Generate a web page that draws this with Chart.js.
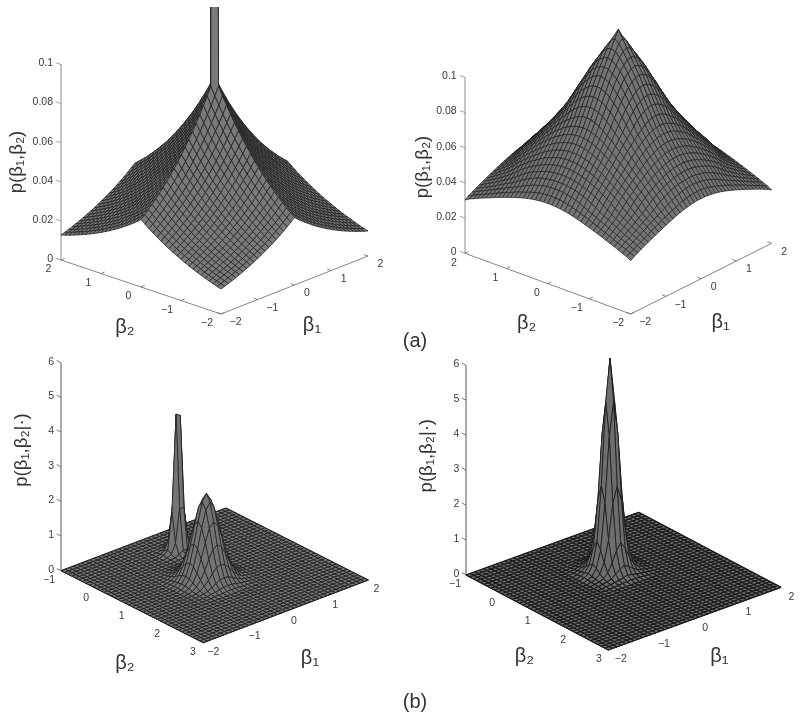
<!DOCTYPE html>
<html><head><meta charset="utf-8">
<style>
html,body{margin:0;padding:0;background:#fff;width:800px;height:719px;overflow:hidden}
canvas{position:absolute}
.cap{position:absolute;font:20px "Liberation Sans",Arial,sans-serif;color:#333;transform:translate(-50%,-50%)}
</style>
<script src="https://cdn.jsdelivr.net/npm/chart.js@4/dist/chart.umd.min.js"></script>
</head><body>
<div style="position:absolute;left:0;top:0;width:800px;height:719px" id="root"></div>
<div class="cap" style="left:415px;top:340px">(a)</div>
<div class="cap" style="left:415px;top:701px">(b)</div>
<script>
// ---------- data ----------
const betaTicksA1 = [-2,-1,0,1,2];
const betaTicksA2 = [-2,-1,0,1,2];
const betaTicksB1 = [-2,-1,0,1,2];
const betaTicksB2 = [-1,0,1,2,3];
const zTicksA = [0,0.02,0.04,0.06,0.08,0.1];
const zLabelsA = ['0','0.02','0.04','0.06','0.08','0.1'];
const zTicksB = [0,1,2,3,4,5,6];
const zLabelsB = ['0','1','2','3','4','5','6'];

// p x 1000, rows |beta1| = 0, 0.1 .. 2, columns |beta2| = 0, 0.1 .. 2
const priorSharp = [
[1000,88.5,84.2,80.2,76.3,72.6,69.1,65.8,62.6,59.6,56.7,53.9,51.3,48.8,46.5,44.2,42.1,40,38.1,36.3,34.5],
[88.5,84.2,80.2,76.3,72.6,69.1,65.8,62.6,59.6,56.7,53.9,51.3,48.8,46.5,44.2,42.1,40,38.1,36.3,34.5,32.8],
[84.2,80.2,76.3,72.6,69.1,65.8,62.6,59.6,56.7,53.9,51.3,48.8,46.5,44.2,42.1,40,38.1,36.3,34.5,32.8,31.2],
[80.2,76.3,72.6,69.1,65.8,62.6,59.6,56.7,53.9,51.3,48.8,46.5,44.2,42.1,40,38.1,36.3,34.5,32.8,31.2,29.7],
[76.3,72.6,69.1,65.8,62.6,59.6,56.7,53.9,51.3,48.8,46.5,44.2,42.1,40,38.1,36.3,34.5,32.8,31.2,29.7,28.3],
[72.6,69.1,65.8,62.6,59.6,56.7,53.9,51.3,48.8,46.5,44.2,42.1,40,38.1,36.3,34.5,32.8,31.2,29.7,28.3,26.9],
[69.1,65.8,62.6,59.6,56.7,53.9,51.3,48.8,46.5,44.2,42.1,40,38.1,36.3,34.5,32.8,31.2,29.7,28.3,26.9,25.6],
[65.8,62.6,59.6,56.7,53.9,51.3,48.8,46.5,44.2,42.1,40,38.1,36.3,34.5,32.8,31.2,29.7,28.3,26.9,25.6,24.4],
[62.6,59.6,56.7,53.9,51.3,48.8,46.5,44.2,42.1,40,38.1,36.3,34.5,32.8,31.2,29.7,28.3,26.9,25.6,24.4,23.2],
[59.6,56.7,53.9,51.3,48.8,46.5,44.2,42.1,40,38.1,36.3,34.5,32.8,31.2,29.7,28.3,26.9,25.6,24.4,23.2,22.1],
[56.7,53.9,51.3,48.8,46.5,44.2,42.1,40,38.1,36.3,34.5,32.8,31.2,29.7,28.3,26.9,25.6,24.4,23.2,22.1,21],
[53.9,51.3,48.8,46.5,44.2,42.1,40,38.1,36.3,34.5,32.8,31.2,29.7,28.3,26.9,25.6,24.4,23.2,22.1,21,20],
[51.3,48.8,46.5,44.2,42.1,40,38.1,36.3,34.5,32.8,31.2,29.7,28.3,26.9,25.6,24.4,23.2,22.1,21,20,19],
[48.8,46.5,44.2,42.1,40,38.1,36.3,34.5,32.8,31.2,29.7,28.3,26.9,25.6,24.4,23.2,22.1,21,20,19,18.1],
[46.5,44.2,42.1,40,38.1,36.3,34.5,32.8,31.2,29.7,28.3,26.9,25.6,24.4,23.2,22.1,21,20,19,18.1,17.2],
[44.2,42.1,40,38.1,36.3,34.5,32.8,31.2,29.7,28.3,26.9,25.6,24.4,23.2,22.1,21,20,19,18.1,17.2,16.4],
[42.1,40,38.1,36.3,34.5,32.8,31.2,29.7,28.3,26.9,25.6,24.4,23.2,22.1,21,20,19,18.1,17.2,16.4,15.6],
[40,38.1,36.3,34.5,32.8,31.2,29.7,28.3,26.9,25.6,24.4,23.2,22.1,21,20,19,18.1,17.2,16.4,15.6,14.8],
[38.1,36.3,34.5,32.8,31.2,29.7,28.3,26.9,25.6,24.4,23.2,22.1,21,20,19,18.1,17.2,16.4,15.6,14.8,14.1],
[36.3,34.5,32.8,31.2,29.7,28.3,26.9,25.6,24.4,23.2,22.1,21,20,19,18.1,17.2,16.4,15.6,14.8,14.1,13.4],
[34.5,32.8,31.2,29.7,28.3,26.9,25.6,24.4,23.2,22.1,21,20,19,18.1,17.2,16.4,15.6,14.8,14.1,13.4,12.8]
];
const priorRound = [
[124.4,120,115.5,111.2,106.9,102.7,97.8,92.9,88,83.2,78.4,74.6,70.9,67.4,64,60.8,57.7,54.7,51.8,48.6,45.5],
[120,118.2,114.5,110.5,106.4,102.2,97.4,92.6,87.7,82.9,78.2,74.4,70.8,67.3,63.9,60.7,57.6,54.6,51.7,48.5,45.5],
[115.5,114.5,112,108.6,104.9,100.8,96.2,91.5,86.8,82.1,77.6,73.9,70.3,66.9,63.6,60.4,57.3,54.3,51.5,48.3,45.3],
[111.2,110.5,108.6,105.9,102.7,98.6,94.3,89.9,85.4,80.8,76.7,73.1,69.6,66.2,63,59.9,56.9,53.9,51,47.9,45],
[106.9,106.4,104.9,102.7,99.4,95.8,91.9,87.7,83.5,79.1,75.5,72,68.6,65.4,62.2,59.2,56.2,53.4,50.4,47.3,44.6],
[102.7,102.2,100.8,98.6,95.8,92.6,88.9,85.1,81.1,77.3,73.9,70.6,67.4,64.2,61.2,58.3,55.4,52.6,49.6,46.6,44.1],
[97.8,97.4,96.2,94.3,91.9,88.9,85.6,82.1,78.4,75.3,72.2,69.2,66,63,60.1,57.2,54.4,51.7,48.7,45.7,43.5],
[92.9,92.6,91.5,89.9,87.7,85.1,82.1,78.9,76,73.1,70.2,67.3,64.4,61.6,58.8,56,53.4,50.6,47.6,44.9,42.8],
[88,87.7,86.8,85.4,83.5,81.1,78.4,76,73.4,70.8,68,65.4,62.7,60,57.3,54.7,52.1,49.3,46.4,44.1,42],
[83.2,82.9,82.1,80.8,79.1,77.3,75.3,73.1,70.8,68.3,65.9,63.3,60.8,58.3,55.8,53.3,50.7,47.9,45.2,43.2,41.2],
[78.4,78.2,77.6,76.7,75.5,73.9,72.2,70.2,68,65.9,63.5,61.2,58.9,56.5,54.1,51.7,49,46.4,44.1,42.1,40.4],
[74.6,74.4,73.9,73.1,72,70.6,69.2,67.3,65.4,63.3,61.2,59,56.9,54.6,52.4,50,47.3,44.9,43,41.2,39.5],
[70.9,70.8,70.3,69.6,68.6,67.4,66,64.4,62.7,60.8,58.9,56.9,54.8,52.7,50.4,47.9,45.5,43.6,41.9,40.2,38.6],
[67.4,67.3,66.9,66.2,65.4,64.2,63,61.6,60,58.3,56.5,54.6,52.7,50.7,48.3,46,44.1,42.4,40.7,39.2,37.7],
[64,63.9,63.6,63,62.2,61.2,60.1,58.8,57.3,55.8,54.1,52.4,50.4,48.3,46.1,44.3,42.7,41.1,39.6,38.1,36.7],
[60.8,60.7,60.4,59.9,59.2,58.3,57.2,56,54.7,53.3,51.7,50,47.9,46,44.3,42.8,41.2,39.8,38.4,37,35.8],
[57.7,57.6,57.3,56.9,56.2,55.4,54.4,53.4,52.1,50.7,49,47.3,45.5,44.1,42.7,41.2,39.9,38.5,37.3,36,34.8],
[54.7,54.6,54.3,53.9,53.4,52.6,51.7,50.6,49.3,47.9,46.4,44.9,43.6,42.4,41.1,39.8,38.5,37.3,36.2,35,33.8],
[51.8,51.7,51.5,51,50.4,49.6,48.7,47.6,46.4,45.2,44.1,43,41.9,40.7,39.6,38.4,37.3,36.2,35.1,33.9,32.7],
[48.6,48.5,48.3,47.9,47.3,46.6,45.7,44.9,44.1,43.2,42.1,41.2,40.2,39.2,38.1,37,36,35,33.9,32.8,31.7],
[45.5,45.5,45.3,45,44.6,44.1,43.5,42.8,42,41.2,40.4,39.5,38.6,37.7,36.7,35.8,34.8,33.8,32.7,31.7,30.3]
];
// posterior peaks: rows = distance in beta1 nodes, columns = distance in beta2 nodes from the peak node
const postWide = [
[2.45,2.25,1.73,1.12,0.61,0.28,0.107,0.035],
[2.25,2.06,1.59,1.03,0.56,0.26,0.098,0.032],
[1.73,1.59,1.22,0.79,0.43,0.198,0.076,0.024],
[1.12,1.03,0.79,0.513,0.28,0.128,0.049,0.016],
[0.61,0.56,0.43,0.28,0.152,0.07,0.027,0.0085],
[0.28,0.26,0.198,0.128,0.07,0.032,0.012,0.004],
[0.107,0.098,0.076,0.049,0.027,0.012,0.005,0.001],
[0.035,0.032,0.024,0.016,0.0085,0.004,0.001,0]
];
// rows beta1 node 18..25, columns beta2 node 5..11
const postTall = [
[0,0.01,0.02,0.04,0.02,0.01,0],
[0.01,0.03,0.08,0.15,0.08,0.03,0.01],
[0.02,0.08,0.35,1.2,0.35,0.08,0.02],
[0.04,0.15,1.3,3.98,1.3,0.15,0.04],
[0.04,0.15,1.3,3.9,1.3,0.15,0.04],
[0.02,0.08,0.35,1.1,0.35,0.08,0.02],
[0.01,0.03,0.08,0.15,0.08,0.03,0.01],
[0,0.01,0.02,0.04,0.02,0.01,0]
];
const postSingle = [
[6.07,4.85,2.5,0.95,0.35,0.12,0.05],
[4.85,3.9,2.05,0.75,0.28,0.1,0.04],
[2.5,2.05,1.05,0.45,0.18,0.07,0.03],
[0.95,0.75,0.45,0.22,0.1,0.05,0.02],
[0.35,0.28,0.18,0.1,0.06,0.03,0.01],
[0.12,0.1,0.07,0.05,0.03,0.015,0],
[0.05,0.04,0.03,0.02,0.01,0,0]
];

// ---------- lookups into the tables ----------
const N = 40;
const zPriorSharp = (i,j)=>priorSharp[Math.abs(i-20)][Math.abs(j-20)]/1000;
const zPriorRound = (i,j)=>priorRound[Math.abs(i-20)][Math.abs(j-20)]/1000;
function fromMirror(t,ci,cj,i,j){const a=Math.abs(i-ci),b=Math.abs(j-cj);return (a<t.length&&b<t[0].length)?t[a][b]:0;}
function fromBlock(t,i0,j0,i,j){const a=i-i0,b=j-j0;return (a>=0&&a<t.length&&b>=0&&b<t[0].length)?t[a][b]:0;}
const zPostTwo = (i,j)=>Math.max(fromMirror(postWide,18,20,i,j),fromBlock(postTall,18,5,i,j));
const zPostOne = (i,j)=>fromMirror(postSingle,21,15,i,j);

// ---------- view of each panel ----------
const panels = [
 {rect:[0,7,400,343], L:[61,260], F:[221,314], R:[368,256], zPx:1955, b1:[-2,2], b2Front:-2, b2Left:2, zFn:zPriorSharp,
  zTicks:zTicksA, zLabels:zLabelsA, t1:betaTicksA1, t2:betaTicksA2, zLabX:53, off2:[-12.5,9.5], off1:[12.5,8.5],
  t2Pos:[125,327], t1Pos:[312,325], zTitle:'p(β₁,β₂)', zTitlePos:[17,162], axis:'#8a8a8a', flat:false, fill:'#7a7a7a', line:'#202020', lw:0.75},
 {rect:[400,0,400,350], L:[465,253.3], F:[630.7,314], R:[771.7,243.3], zPx:1760, b1:[-2,2], b2Front:-2, b2Left:2, zFn:zPriorRound,
  zTicks:zTicksA, zLabels:zLabelsA, t1:betaTicksA1, t2:betaTicksA2, zLabX:456.7, off2:[-11,9.4], off1:[12.5,8.5],
  t2Pos:[526.7,323], t1Pos:[720.7,322.7], zTitle:'p(β₁,β₂)', zTitlePos:[422.7,167], axis:'#8a8a8a', flat:false, fill:'#747474', line:'#202020', lw:0.7},
 {rect:[0,350,400,369], L:[61,570.7], F:[203.3,642.7], R:[368.3,580], zPx:34.67, b1:[-2,2], b2Front:3, b2Left:-1, zFn:zPostTwo,
  zTicks:zTicksB, zLabels:zLabelsB, t1:betaTicksB1, t2:betaTicksB2, zLabX:54, off2:[-10.5,9], off1:[8,9.5],
  t2Pos:[125,663], t1Pos:[310,658], zTitle:'p(β₁,β₂|·)', zTitlePos:[21.7,450], axis:'#555555', flat:true, fill:'#747474', line:'#202020', lw:0.7, gridLw:1.0},
 {rect:[400,350,400,369], L:[466,575], F:[608.3,650], R:[781,587.3], zPx:34.95, b1:[-2,2], b2Front:3, b2Left:-1, zFn:zPostOne,
  zTicks:zTicksB, zLabels:zLabelsB, t1:betaTicksB1, t2:betaTicksB2, zLabX:459.3, off2:[-9.5,9], off1:[10.5,9.5],
  t2Pos:[524.3,656.7], t1Pos:[719.3,656.7], zTitle:'p(β₁,β₂|·)', zTitlePos:[426.7,455.7], axis:'#555555', flat:true, fill:'#6e6e6e', line:'#1c1c1c', lw:0.8, gridLw:1.3}
];

function makeProjector(p){
  const s1=p.b1[1]-p.b1[0], s2=p.b2Left-p.b2Front;
  return (b1,b2,z)=>{
    const a=(b1-p.b1[0])/s1, b=(b2-p.b2Front)/s2;
    return {x:p.F[0]+a*(p.R[0]-p.F[0])+b*(p.L[0]-p.F[0]),
            y:p.F[1]+a*(p.R[1]-p.F[1])+b*(p.L[1]-p.F[1])-z*p.zPx};
  };
}
function seg(a,b,color,w){return {data:[a,b],showLine:true,pointRadius:0,borderColor:color,borderWidth:w,fill:false,tension:0};}

function buildDatasets(p){
  const P=makeProjector(p);
  const s1=p.b1[1]-p.b1[0];
  // grid index i follows beta1, j follows beta2 from its lower end
  const b2min=Math.min(p.b2Front,p.b2Left), s2=Math.abs(p.b2Left-p.b2Front);
  const bi=i=>p.b1[0]+s1*i/N, bj=j=>b2min+s2*j/N;
  const node=(i,j,z)=>P(bi(i),bj(j),z===undefined?p.zFn(i,j):z);
  const quads=[];
  for(let i=0;i<N;i++)for(let j=0;j<N;j++){
    const zs=[p.zFn(i,j),p.zFn(i+1,j),p.zFn(i+1,j+1),p.zFn(i,j+1)];
    if(p.flat&&zs.every(v=>v===0))continue;
    const a=node(i,j),b=node(i+1,j),c=node(i+1,j+1),d=node(i,j+1);
    const depth=P(bi(i+.5),bj(j+.5),0).y;
    // low skirts of the peaks keep the heavier look of the surrounding plane
    const top=Math.max(...zs);
    const w=p.flat?(top<0.12?p.gridLw*0.8:top<0.5?(p.gridLw*0.8+p.lw)/2:p.lw):p.lw;
    quads.push({depth,set:{data:[a,b,c,d,{x:a.x,y:a.y}],showLine:true,pointRadius:0,tension:0,
      fill:'shape',backgroundColor:p.fill,borderColor:p.line,borderWidth:w}});
  }
  quads.sort((u,v)=>u.depth-v.depth);
  const back=[];
  if(p.flat){
    const c0=node(0,0,0),c1=node(N,0,0),c2=node(N,N,0),c3=node(0,N,0);
    back.push({data:[c0,c1,c2,c3,{x:c0.x,y:c0.y}],showLine:true,pointRadius:0,tension:0,fill:'shape',backgroundColor:p.fill,borderColor:p.line,borderWidth:p.lw});
    for(let i=0;i<=N;i++)back.push(seg(node(i,0,0),node(i,N,0),p.line,p.gridLw));
    for(let j=0;j<=N;j++)back.push(seg(node(0,j,0),node(N,j,0),p.line,p.gridLw));
  }
  // axes and ticks
  const axes=[];
  const zTop=p.zTicks[p.zTicks.length-1];
  const bMin1=p.b1[0];
  axes.push(seg(P(bMin1,p.b2Left,0),P(bMin1,p.b2Left,zTop),p.axis,1));
  axes.push(seg(P(bMin1,p.b2Left,0),P(bMin1,p.b2Front,0),'#666666',0.8));
  axes.push(seg(P(bMin1,p.b2Front,0),P(p.b1[1],p.b2Front,0),'#666666',0.8));
  const out=p.b2Left+0.03*(p.b2Left-p.b2Front);
  p.zTicks.forEach(z=>axes.push(seg(P(bMin1,p.b2Left,z),P(bMin1,out,z),p.axis,0.8)));
  p.t2.forEach(b=>axes.push(seg(P(bMin1,b,0),P(bMin1+0.025*s1,b,0),'#666666',0.8)));
  const inw=p.b2Front+0.025*(p.b2Left-p.b2Front);
  p.t1.forEach(b=>axes.push(seg(P(b,p.b2Front,0),P(b,inw,0),'#666666',0.8)));
  // drawing runs from the last dataset to the first: last = painted first
  const painted=[...axes,...back,...quads.map(q=>q.set)];
  return painted.reverse();
}

const labelPlugin={
  id:'panelText',
  afterDraw(chart,args,opts){
    const p=opts.panel, P=makeProjector(p), ctx=chart.ctx;
    const sx=v=>chart.scales.x.getPixelForValue(v), sy=v=>chart.scales.y.getPixelForValue(v);
    ctx.save();
    ctx.fillStyle='#3a3a3a';
    ctx.textBaseline='middle';
    ctx.font='10.5px "Liberation Sans",Arial,sans-serif';
    ctx.textAlign='right';
    p.zTicks.forEach((z,k)=>{const q=P(p.b1[0],p.b2Left,z);ctx.fillText(p.zLabels[k],sx(p.zLabX),sy(q.y-1));});
    ctx.textAlign='center';
    const lab=b=>(b<0?'\u2212'+Math.abs(b):String(b));
    p.t2.forEach(b=>{const q=P(p.b1[0],b,0);ctx.fillText(lab(b),sx(q.x+p.off2[0]-(b<0?1.5:0)),sy(q.y+p.off2[1]));});
    p.t1.forEach(b=>{const q=P(b,p.b2Front,0);ctx.fillText(lab(b),sx(q.x+p.off1[0]+(b<0?2:0)),sy(q.y+p.off1[1]));});
    ctx.font='20px "Liberation Sans",Arial,sans-serif';
    ctx.fillStyle='#333';
    ctx.fillText('β₂',sx(p.t2Pos[0]),sy(p.t2Pos[1]));
    ctx.fillText('β₁',sx(p.t1Pos[0]),sy(p.t1Pos[1]));
    ctx.translate(sx(p.zTitlePos[0]),sy(p.zTitlePos[1]));
    ctx.rotate(-Math.PI/2);
    ctx.font='18.5px "Liberation Sans",Arial,sans-serif';
    ctx.fillText(p.zTitle,0,0);
    ctx.restore();
  }
};

const root=document.getElementById('root');
panels.forEach(p=>{
  const [x,y,w,h]=p.rect;
  const c=document.createElement('canvas');
  c.width=w;c.height=h;
  c.style.cssText=`left:${x}px;top:${y}px;width:${w}px;height:${h}px`;
  root.appendChild(c);
  new Chart(c.getContext('2d'),{
    type:'scatter',
    data:{datasets:buildDatasets(p)},
    options:{
      responsive:false,animation:false,events:[],parsing:false,
      layout:{padding:0},
      plugins:{legend:{display:false},tooltip:{enabled:false},panelText:{panel:p}},
      scales:{
        x:{type:'linear',display:false,min:x,max:x+w},
        y:{type:'linear',display:false,min:y,max:y+h,reverse:true}
      }
    },
    plugins:[labelPlugin]
  });
});
</script>
</body></html>
